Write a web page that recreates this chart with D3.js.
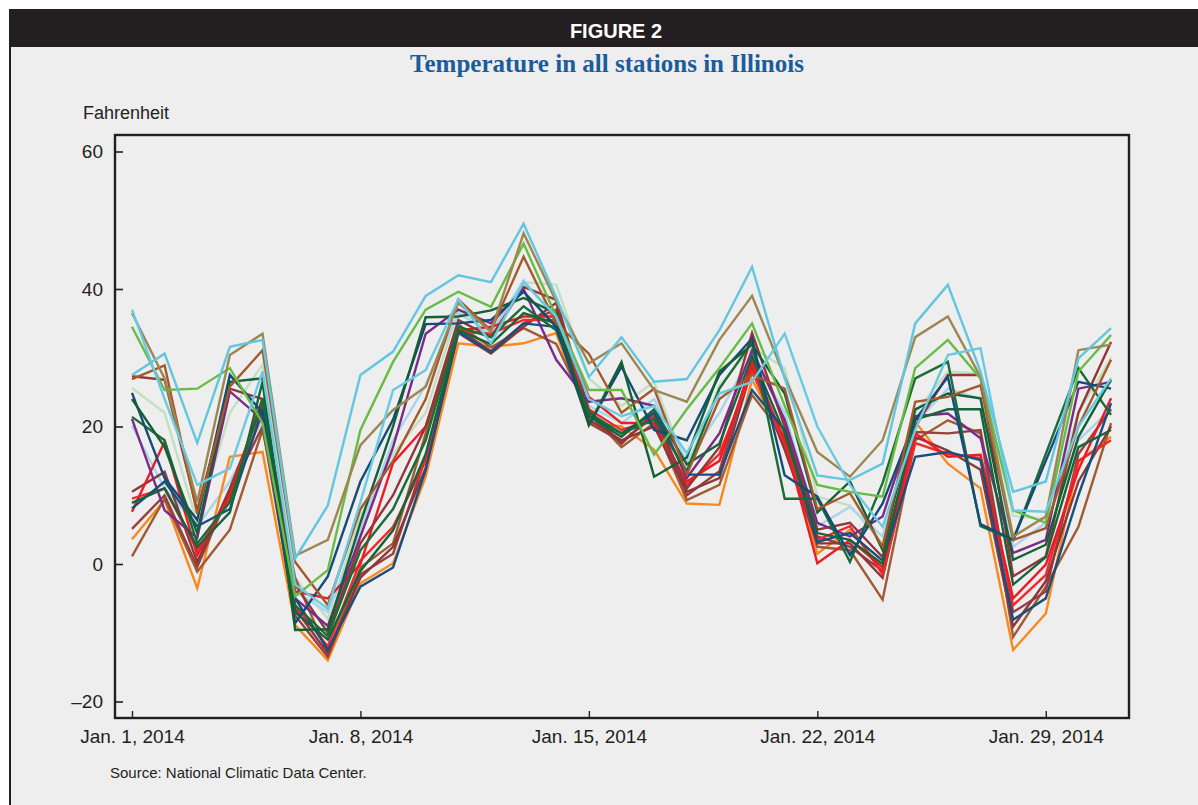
<!DOCTYPE html>
<html><head><meta charset="utf-8">
<script src="https://cdn.jsdelivr.net/npm/d3@7"></script>
<style>
body{margin:0;background:#ffffff;}
svg{display:block;}
</style></head><body>
<svg id="chart" width="1198" height="805"></svg>
<script>
// ---- data ----
const dayNumbers = d3.range(1, 32); // Jan 1 .. Jan 31, 2014
const tickDays = [1, 8, 15, 22, 29];
const tickLabels = ["Jan. 1, 2014", "Jan. 8, 2014", "Jan. 15, 2014", "Jan. 22, 2014", "Jan. 29, 2014"];
const yTickValues = [60, 40, 20, 0, -20];
const yTickLabels = ["60", "40", "20", "0", "\u201320"];

const stationCyanA   = [27.5,30.6,17.6,31.6,32.6,0.8,8.5,27.5,30.9,39,42,41,49.5,38.8,27.2,33,26.5,26.9,34,43.2,27,12.9,12.2,14.6,35,40.6,28,10.5,12,29.9,34.3];
const stationTan     = [36.5,27,9,30.4,33.5,1.2,3.5,17.3,22.4,25.8,38,33.8,48.1,38.2,29.2,32.1,25.3,23.6,32.6,39,27.2,16.3,12.7,18,33,36,27.2,4,6.9,31.1,31.9];
const stationGreen   = [34.5,25.3,25.5,28.5,20.5,-4.7,-0.9,19.5,29.4,37,39.6,37.4,46.6,36,25.3,25.3,15.9,22.5,28.5,35,23,11.5,10.5,9.8,28.5,32.6,27,7.8,6,28,33.3];
const stationBrown   = [26.9,28.9,7.3,25.8,31.1,0.3,-6,8,15,24,38.5,34,44.7,35,30.6,22,25.5,13,24,27.5,25.5,8,10.3,2.5,23.6,24.3,26,3.5,5.2,20,29.7];
const stationCyanB   = [37,24,11.5,13.9,28,-3,-6.5,9,25.3,28.2,38.5,32.1,41,36,24,21.5,23,16.1,24.8,26.5,33.5,20,11.5,5.4,19.5,30.4,31.4,7.8,7.6,20,27];
const stationPaleGreen = [25.6,22,6,22,29,-2,-8,7,16,22,37,34,41,40.6,27,23,26.5,14,26,31.5,28.5,9.8,8.5,3,22,28,27.7,7,6.5,22,30];
const stationPaleBlue  = [20.1,11,5.5,12,21,-4,-7,5,18,26,36.5,33.5,41.3,35.5,23,20.5,24,15,22,30.5,22,5.5,8.3,4,20.5,25.5,24,2.5,6,18,22.5];
const stationDarkGreenA = [24,17,4.5,26.5,27,-9.6,-9.5,6,20,35.9,36,36.9,38.7,36.5,20.2,29.4,12.7,15.5,28,31.9,24.8,7.5,12,2,22.5,24.8,24.1,0.6,2.8,18.5,26.8];
const stationDarkGreenB = [21.4,18,3,9,24,-6,-10.5,2,8,18,34.5,33,37.5,34,22,19,21,13.5,25.5,32.3,9.5,9.5,0.3,11.8,27,29.4,5.5,3.5,16,28.5,21.7];
const stationDarkGreenC = [8.9,11,2.5,7.5,26.5,-7,-11,-1,4.9,16,34,32,36.5,35,21.5,18.5,22.5,14.5,17.5,30.2,19,4.5,3.5,0,21,22.5,22.5,-3,1,17,19.5];
const stationNavyA   = [24.9,12.5,6.4,27.5,22,-8.6,-1.8,12,21,34.9,35,35.5,39.6,34.5,20.2,28.7,19.5,18,27.5,32.8,12.9,9.8,1.3,8.8,21,27.2,5.8,3.5,15,26.5,25.5];
const stationNavyB   = [8.1,12,5.5,8,22.5,-5,-12.5,-3.3,-0.5,13.7,33.8,30.8,35,34.5,21.5,19,22,13,13,25.3,19.5,3.2,4.5,0.5,15.6,16.3,15.1,-8.1,-5,10,23.4];
const stationPurple  = [21.1,7.8,3.8,25.1,21,-5,-9,4,17,33.5,37,35,40,29.7,23.6,24.1,23,12.5,19,31.1,21,6,4,6.9,21.5,21.9,18.3,1.6,3.5,25.5,26.5];
const stationMaroonA = [27.3,26.8,7.8,25.5,24,-3,-10,3,10,20,35.5,33,40.3,38.4,22.4,17.5,22,11,17,33.6,20,5,6,1,20,27.5,27.5,-1.8,1.1,22,32.3];
const stationMaroonB = [10.5,13.4,0.3,11,23,-6.5,-13,-2,2.5,14,33.6,30.6,34.5,38,21,18,20,10.5,12.5,28.5,16.6,3,3,-2,18.5,16.5,13.7,-9.1,-2.5,12,20];
const stationMaroonC = [5.1,10,-0.4,10.5,20,-7.5,-13.5,-1.5,1.5,15.5,34.2,31,35,37,20.5,17.8,21.5,10,13.5,29.8,17,4,2.5,-1,19.2,19,19.5,-7,-4,16,22.5];
const stationRedA    = [7.6,17.8,1.3,10,24.1,-4,-5,0,14.7,20,34,34.5,36,36,24.3,20.5,20.5,12,15,29.2,18,0.1,3.5,-0.5,19,15.6,15.9,-5,-0.1,13.7,24.1];
const stationRedB    = [9.5,11,2,9.5,22,-6,-12,0.5,5.4,15,33.8,33.5,35.5,35.5,22.5,19.5,21,11.5,16,28,17.5,3.5,5.5,-1.5,17.6,16,15.4,-6,-1.6,15,18];
const stationOrange  = [3.6,9.3,-3.5,15.6,16.3,-8.9,-14,-2.8,0.1,12.7,32.1,31.6,32.1,33.6,20.5,20,16.6,8.8,8.6,26.8,18,1.5,5,-0.8,20.7,14.6,11,-12.5,-7.2,14.9,18.5];
const stationBrownB  = [1.1,9.5,-1.1,5,19.5,-2,-13,-0.5,3,19,34.8,31.5,34.3,32,22,17,20.5,9.3,11.5,24.6,18.5,2.5,2,-5.2,18,20.9,19,-10.6,-3.3,5.4,20.5];

// drawing order and colours (styles kept separate from values)
const seriesOrder = [
  [stationPaleGreen, "#c3dfc1"],
  [stationPaleBlue, "#a8d5e9"],
  [stationOrange, "#f7891f"],
  [stationBrownB, "#a05b33"],
  [stationMaroonC, "#97403f"],
  [stationMaroonB, "#8e3738"],
  [stationRedB, "#ef2a2e"],
  [stationRedA, "#ed1c24"],
  [stationMaroonA, "#923638"],
  [stationPurple, "#7b2b87"],
  [stationNavyB, "#1b4d7e"],
  [stationDarkGreenC, "#17633a"],
  [stationDarkGreenB, "#1b6b37"],
  [stationNavyA, "#164a79"],
  [stationDarkGreenA, "#136036"],
  [stationBrown, "#a5582c"],
  [stationGreen, "#67bc45"],
  [stationTan, "#9c8651"],
  [stationCyanB, "#6acae1"],
  [stationCyanA, "#62c6df"]
];

// ---- layout ----
const svg = d3.select("#chart");
const ink = "#231f20";

svg.append("rect").attr("x", 10).attr("y", 9).attr("width", 1188).attr("height", 796).attr("fill", "#eeeeee");
svg.append("rect").attr("x", 9).attr("y", 9).attr("width", 1189).attr("height", 38).attr("fill", ink);
svg.append("line").attr("x1", 10).attr("x2", 10).attr("y1", 9).attr("y2", 805).attr("stroke", ink).attr("stroke-width", 2);

svg.append("text").attr("x", 616).attr("y", 38).attr("text-anchor", "middle")
  .attr("font-family", "'Liberation Sans', Arial, sans-serif").attr("font-weight", "bold")
  .attr("font-size", 20).attr("fill", "#ffffff").text("FIGURE 2");

svg.append("text").attr("x", 607).attr("y", 72).attr("text-anchor", "middle")
  .attr("font-family", "'Liberation Serif', 'Times New Roman', serif").attr("font-weight", "bold")
  .attr("font-size", 25).attr("fill", "#1b5c9b").text("Temperature in all stations in Illinois");

svg.append("text").attr("x", 83).attr("y", 119)
  .attr("font-family", "'Liberation Sans', Arial, sans-serif")
  .attr("font-size", 18).attr("fill", ink).text("Fahrenheit");

svg.append("text").attr("x", 110).attr("y", 778)
  .attr("font-family", "'Liberation Sans', Arial, sans-serif")
  .attr("font-size", 15).attr("fill", ink).text("Source: National Climatic Data Center.");

const plotLeft = 115, plotRight = 1129, plotTop = 135, plotBottom = 718;
const dayMs = 864e5;
const dateOf = d => new Date(2014, 0, d);
const x = d3.scaleTime()
  .domain([new Date(dateOf(1).getTime() - 0.52 * dayMs), new Date(dateOf(31).getTime() + 0.55 * dayMs)])
  .range([plotLeft, plotRight]);
const y = d3.scaleLinear().domain([-22.4, 62.4]).range([plotBottom, plotTop]);

const line = d3.line()
  .x((v, i) => x(dateOf(dayNumbers[i])))
  .y(v => y(v));

const lines = svg.append("g").attr("fill", "none").attr("stroke-width", 2.4).attr("stroke-linejoin", "miter");
seriesOrder.forEach(([vals, col]) => {
  lines.append("path").attr("d", line(vals)).attr("stroke", col);
});

// frame
svg.append("rect").attr("x", plotLeft).attr("y", plotTop).attr("width", plotRight - plotLeft).attr("height", plotBottom - plotTop)
  .attr("fill", "none").attr("stroke", ink).attr("stroke-width", 2.4);

// y axis
const yAxis = d3.axisLeft(y).tickValues(yTickValues).tickSize(-8).tickPadding(12)
  .tickFormat((d, i) => yTickLabels[i]);
const gy = svg.append("g").attr("transform", `translate(${plotLeft},0)`).call(yAxis);
gy.select(".domain").remove();
gy.selectAll(".tick line").attr("stroke", ink).attr("stroke-width", 1.6);
gy.selectAll(".tick text").attr("font-family", "'Liberation Sans', Arial, sans-serif")
  .attr("font-size", 19).attr("fill", ink);

// x axis
const xAxis = d3.axisBottom(x).tickValues(tickDays.map(dateOf)).tickSize(-7).tickPadding(12)
  .tickFormat((d, i) => tickLabels[i]);
const gx = svg.append("g").attr("transform", `translate(0,${plotBottom})`).call(xAxis);
gx.select(".domain").remove();
gx.selectAll(".tick line").attr("stroke", ink).attr("stroke-width", 1.4);
gx.selectAll(".tick text").attr("font-family", "'Liberation Sans', Arial, sans-serif")
  .attr("font-size", 19).attr("fill", ink);
</script>
</body></html>
